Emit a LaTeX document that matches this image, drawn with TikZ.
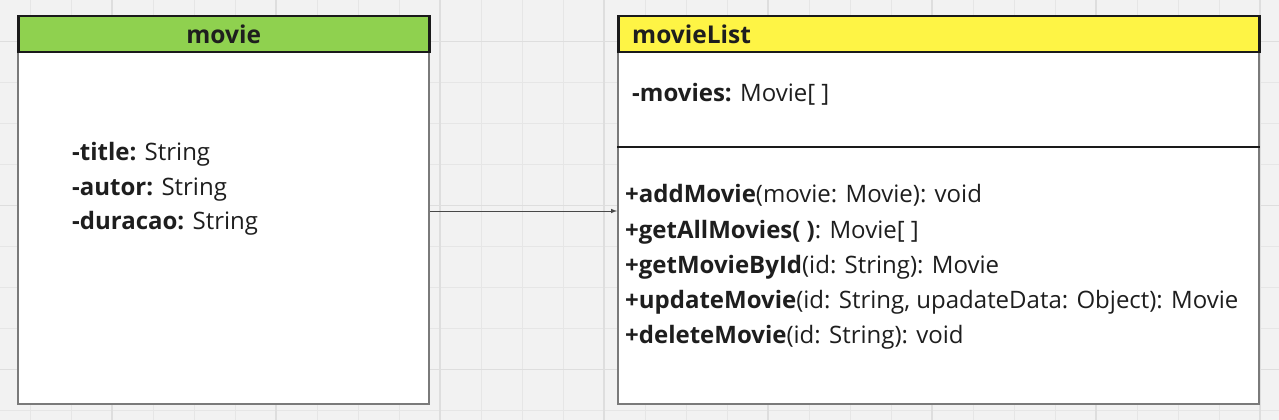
\documentclass[tikz,border=0pt]{standalone}
\usepackage{fontspec}
\setmainfont{Open Sans}
\usepackage{tikz}
\usetikzlibrary{positioning}

\definecolor{boardbg}{HTML}{F2F2F2}
\definecolor{gridminor}{HTML}{E6E6E6}
\definecolor{gridmajor}{HTML}{DEDEDE}
\definecolor{moviegreen}{HTML}{8FD14F}
\definecolor{listyellow}{HTML}{FEF445}
\definecolor{headline}{HTML}{1A1A1A}
\definecolor{bodyline}{HTML}{7A7A7A}
\definecolor{inktext}{HTML}{1E1E1E}

\tikzset{
  classbody/.style={draw=bodyline, line width=2pt, fill=white, anchor=north west, inner sep=0pt},
  classhead/.style={draw=headline, line width=2.5pt, anchor=north west, inner sep=0pt,
    text=inktext, font=\fontsize{24.5}{28}\selectfont\bfseries},
  members/.style={anchor=west, align=left, inner sep=0pt, text=inktext}
}

\begin{document}
\begin{tikzpicture}[x=1pt, y=-1pt]
  \useasboundingbox (0,0) rectangle (1279,420);
  \fill [boardbg] (0,0) rectangle (1279,420);
  \foreach \gx in {30,71,...,1280} \draw [gridminor, line width=1pt] (\gx,0) -- (\gx,420);
  \foreach \gy in {41.5,82.5,...,420} \draw [gridminor, line width=1pt] (0,\gy) -- (1279,\gy);
  \foreach \gx in {112,276,...,1280} \draw [gridmajor, line width=1.6pt] (\gx,0) -- (\gx,420);
  \foreach \gy in {41.5,205.5,369.5} \draw [gridmajor, line width=1.6pt] (0,\gy) -- (1279,\gy);

  % movie class
  \node [classbody, minimum width=411pt, minimum height=352pt] (movieBody) at (17,51) {};
  \node [classhead, fill=moviegreen, minimum width=411pt, minimum height=36pt] (movieHead) at (17,15) {movie};
  \node [members, font=\fontsize{24}{34.5}\selectfont] (movieAttrs) at (72,189)
    {\textbf{-title:} String\\ \textbf{-autor:} String\\ \textbf{-duracao:} String};

  % movieList class
  \node [classbody, minimum width=641pt, minimum height=352pt] (listBody) at (617,51) {};
  \node [classhead, fill=listyellow, minimum width=641pt, minimum height=36pt] (listHead) at (617,15) {};
  \node [members, font=\fontsize{24.5}{28}\selectfont\bfseries] (listTitle) at (632,34) {movieList};
  \node [members, font=\fontsize{24}{28}\selectfont] (listAttrs) at (632,94)
    {\textbf{-movies:} Movie[ ]};
  \draw [headline, line width=1.2pt] (listBody.west |- 0,147) -- (listBody.east |- 0,147);
  \node [members, font=\fontsize{24}{35.2}\selectfont] (listOps) at (625,267)
    {\textbf{+addMovie}(movie: Movie): void\\
     \textbf{+getAllMovies( )}: Movie[ ]\\
     \textbf{+getMovieById}(id: String): Movie\\
     \textbf{+updateMovie}(id: String, upadateData: Object): Movie\\
     \textbf{+deleteMovie}(id: String): void};

  % association
  \draw [->, >=latex, headline!80, line width=1pt]
    ([yshift=17pt]movieBody.east) -- ([yshift=17pt]movieBody.east -| listBody.west);
\end{tikzpicture}
\end{document}
